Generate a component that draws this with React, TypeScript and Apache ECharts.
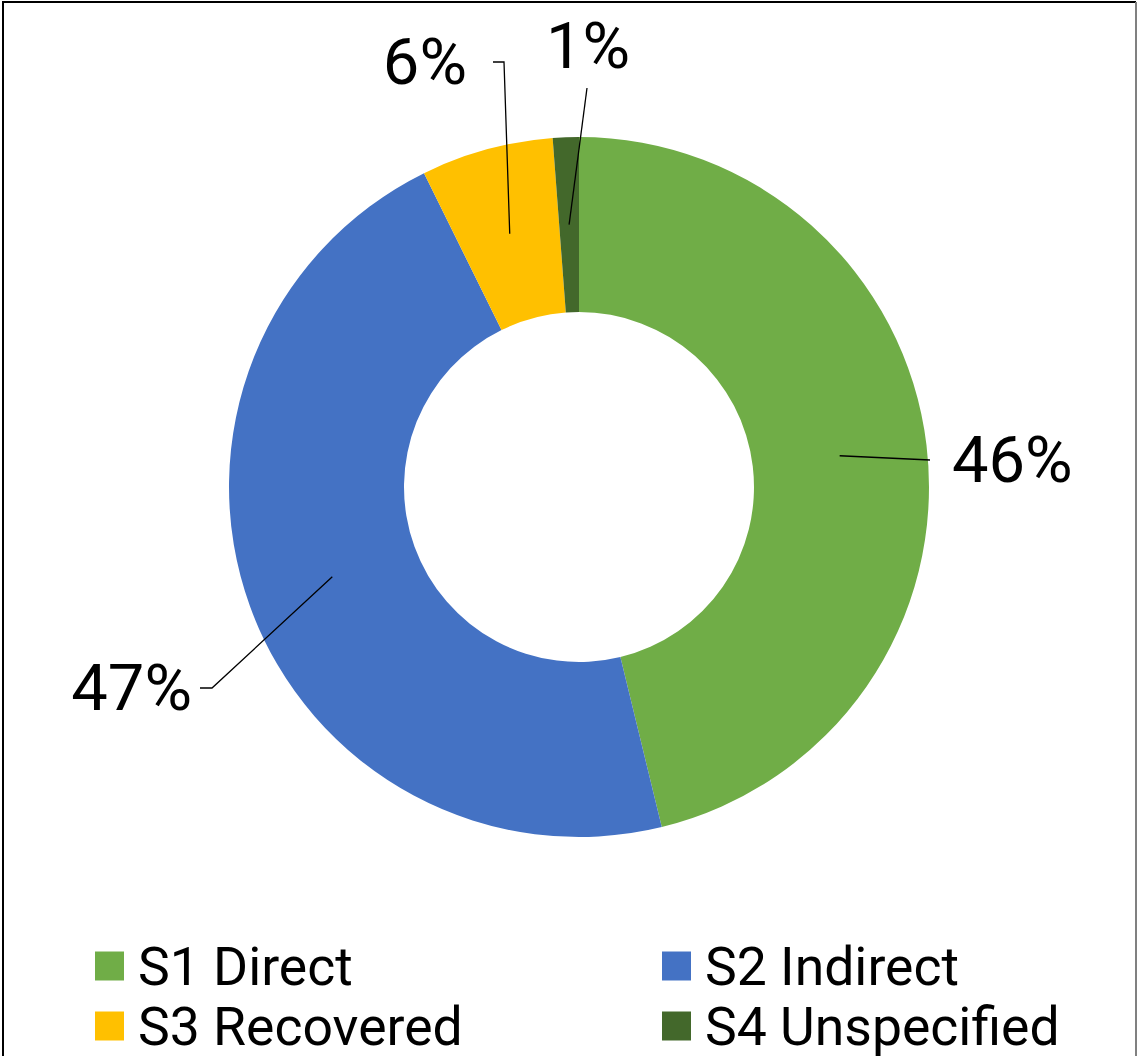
import React, { useEffect, useRef } from "react";
import * as echarts from "echarts";

const categories = ["S1 Direct", "S2 Indirect", "S3 Recovered", "S4 Unspecified"];
const values = [46.2, 46.5, 6.1, 1.2];
const colors = ["#70AD47", "#4472C4", "#FFC000", "#43682B"];

// layout (not data)
const CX = 579;
const CY = 487;
const R_IN = 175;
const R_OUT = 350;
const labelPlacement = [
  { x: 952, y: 460, align: "left", line: [[930, 460]] },
  { x: 192, y: 688, align: "right", line: [[212, 688], [200, 688]] },
  { x: 467, y: 62, align: "right", line: [[504, 62], [493, 62]] },
  { x: 588, y: 46, align: "center", line: [[587, 88]] },
];

export default function App() {
  const ref = useRef<HTMLDivElement>(null);
  useEffect(() => {
    if (!ref.current) return;
    const chart = echarts.init(ref.current, null, { renderer: "svg" });
    const total = values.reduce((a, b) => a + b, 0);
    const startPoint = (i: number) => {
      let cum = 0;
      for (let k = 0; k < i; k++) cum += values[k];
      const frac = (cum + values[i] / 2) / total;
      const ang = frac * Math.PI * 2;
      const rm = (R_IN + R_OUT) / 2;
      return [CX + rm * Math.sin(ang), CY - rm * Math.cos(ang)];
    };
    const legendText = {
      fontFamily: "Roboto",
      fontSize: 53.5,
      color: "#000",
      lineHeight: 56,
      padding: [0, 0, 0, 9],
    };
    const legendBase = {
      orient: "vertical",
      top: 938,
      height: 140,
      padding: 0,
      icon: "rect",
      itemWidth: 29,
      itemHeight: 29,
      itemGap: 4,
      selectedMode: false,
      textStyle: legendText,
    };
    const pieBase = {
      type: "pie",
      center: [CX, CY],
      radius: [R_IN, R_OUT],
      startAngle: 90,
      clockwise: true,
      avoidLabelOverlap: false,
      emphasis: { disabled: true },
    };
    chart.setOption({
      animation: false,
      backgroundColor: "#fff",
      legend: [
        { ...legendBase, data: [categories[0], categories[2]], left: 95 },
        { ...legendBase, data: [categories[1], categories[3]], left: 662 },
      ],
      graphic: [
        { type: "line", shape: { x1: 2, y1: 2, x2: 1136, y2: 2 }, style: { stroke: "#000", lineWidth: 2 } },
        { type: "line", shape: { x1: 3, y1: 2, x2: 3, y2: 1056 }, style: { stroke: "#000", lineWidth: 2 } },
        { type: "line", shape: { x1: 1136, y1: 2, x2: 1136, y2: 1056 }, style: { stroke: "#808080", lineWidth: 2 } },
      ],
      series: [
        {
          ...pieBase,
          z: 2,
          itemStyle: { borderWidth: 0 },
          label: { show: false },
          labelLine: { show: false },
          data: categories.map((c, i) => ({
            name: c,
            value: values[i],
            itemStyle: { color: colors[i] },
          })),
        },
        {
          ...pieBase,
          z: 5,
          silent: true,
          itemStyle: { color: "rgba(0,0,0,0)", borderWidth: 0 },
          data: categories.map((c, i) => ({ name: c, value: values[i] })),
          label: {
            show: true,
            position: "outside",
            formatter: (p: any) => `${Math.round(p.value)}%`,
            fontFamily: "Roboto",
            fontSize: 65,
            color: "#000",
          },
          labelLine: {
            show: true,
            showAbove: true,
            smooth: false,
            lineStyle: { color: "#000", width: 1.3 },
          },
          labelLayout: (params: any) => {
            const i = params.dataIndex;
            const p = labelPlacement[i];
            const pts = [startPoint(i), ...p.line];
            while (pts.length < 3) pts.push(pts[pts.length - 1]);
            return {
              x: p.x,
              y: p.y,
              align: p.align,
              verticalAlign: "middle",
              labelLinePoints: pts,
            };
          },
        },
      ],
    });
    return () => chart.dispose();
  }, []);
  return (
    <div
      ref={ref}
      style={{ position: "absolute", left: 0, top: 0, width: 1138, height: 1056 }}
    />
  );
}
